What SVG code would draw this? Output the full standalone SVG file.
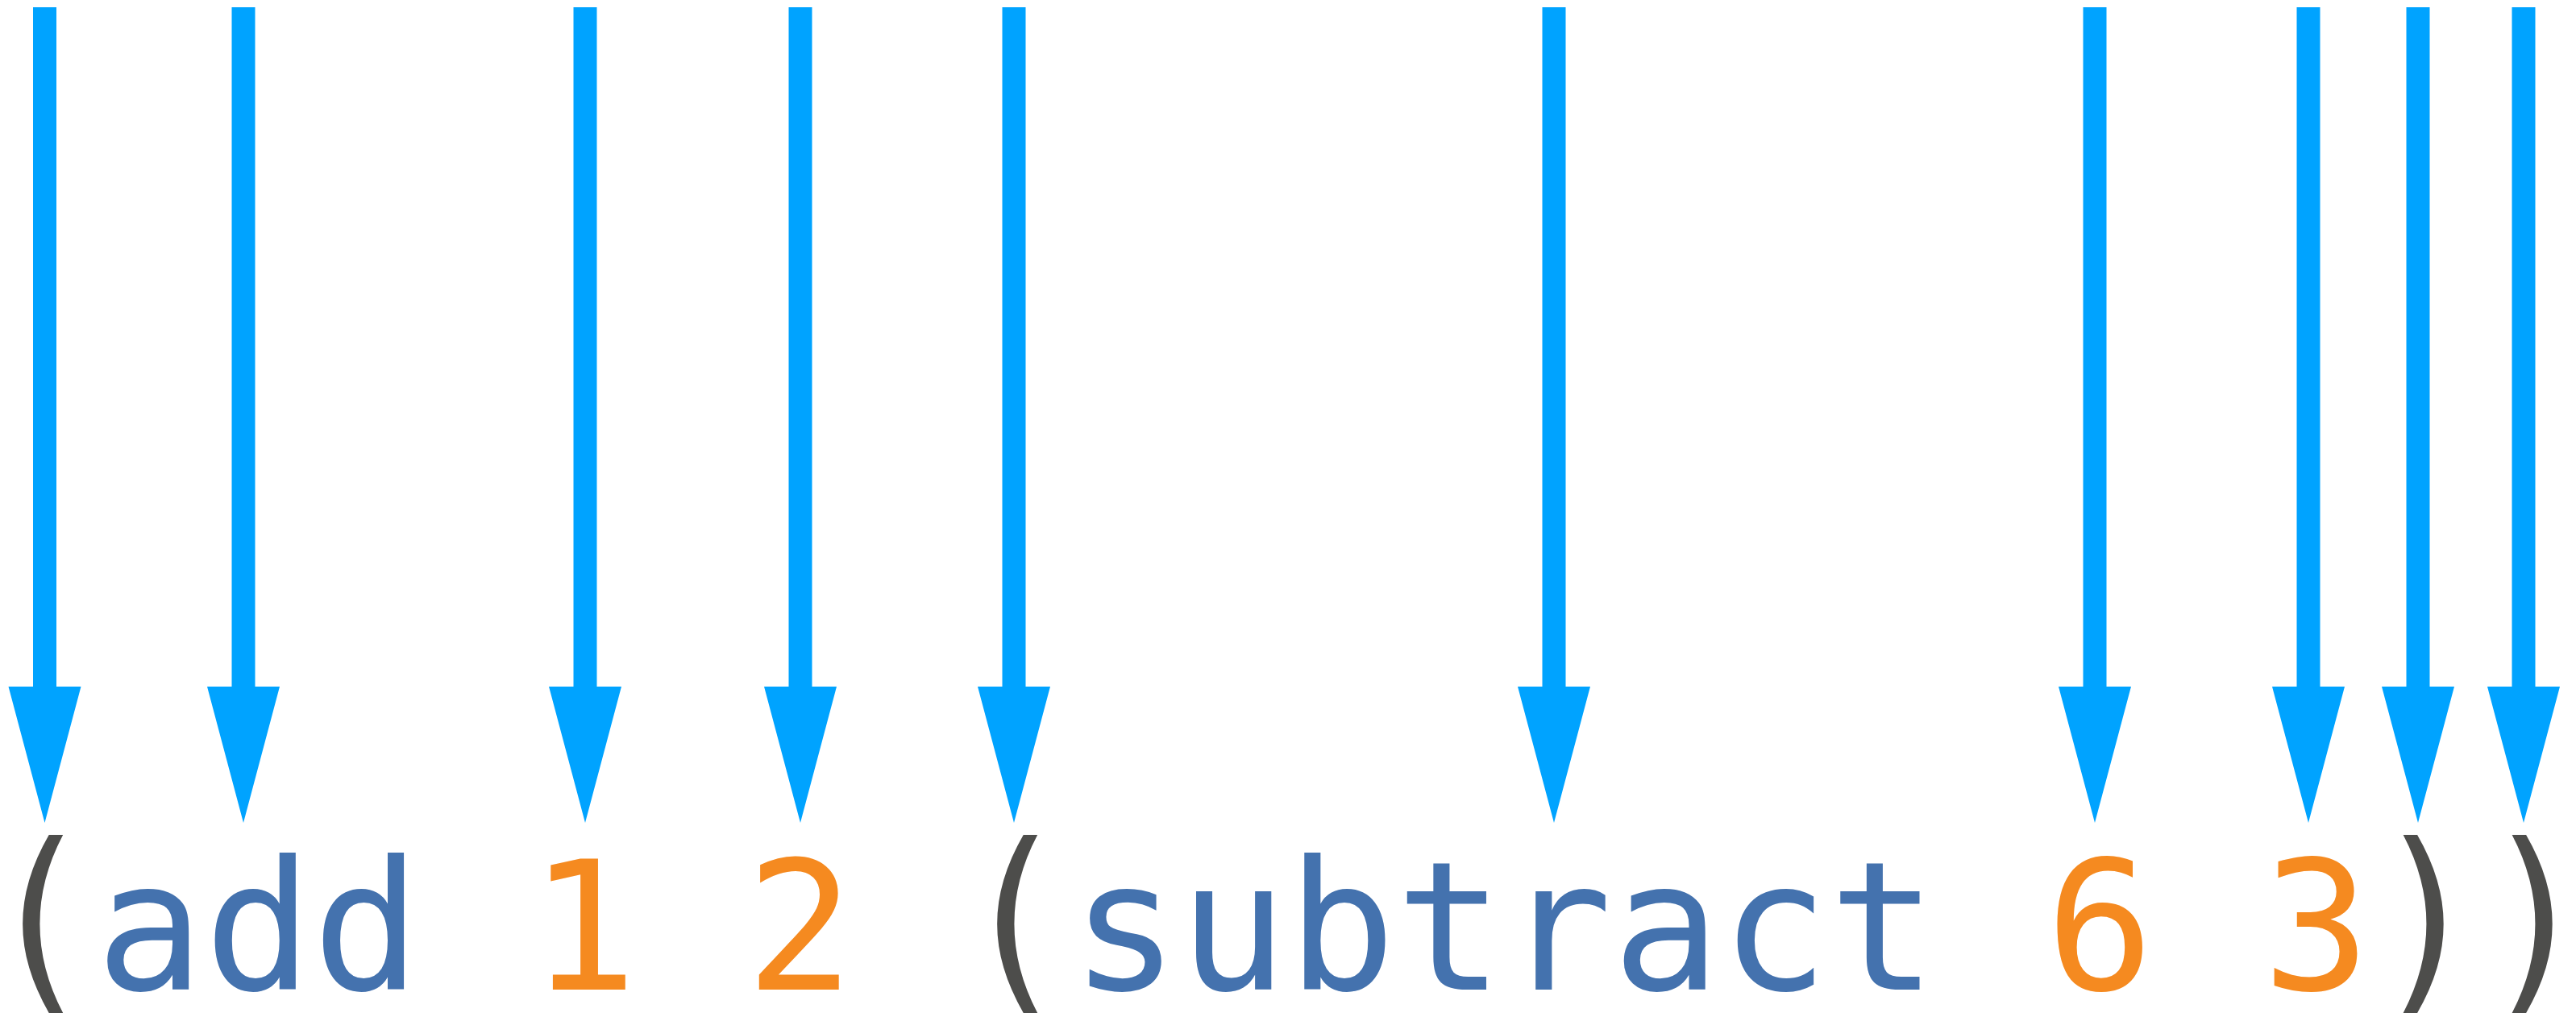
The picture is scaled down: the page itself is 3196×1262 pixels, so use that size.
<svg xmlns="http://www.w3.org/2000/svg" xmlns:xlink="http://www.w3.org/1999/xlink" width="3196" height="1262" viewBox="0 0 3196 1262">
  <style>
    .code { font-family: "DejaVu Sans Mono", "Liberation Mono", monospace; font-size: 223.2px; }
    .paren { fill: #4d4d4b; text-anchor: middle; }
    .sym { fill: #4472ae; }
    .num { fill: #f58a20; }
    .arrow { fill: #00a3ff; }
  </style>
  <defs>
    <!-- downward arrow centred on x = 0: shaft then triangular head -->
    <path id="down-arrow" d="M-14.5,9 H14.5 V852 H45 L0,1021 L-45,852 H-14.5 Z"/>
  </defs>
  <rect width="3196" height="1262" fill="#ffffff"/>

  <!-- arrows pointing at each token of the expression -->
  <g id="connectors" class="arrow">
    <use xlink:href="#down-arrow" href="#down-arrow" x="55.5"/>
    <use xlink:href="#down-arrow" href="#down-arrow" x="302"/>
    <use xlink:href="#down-arrow" href="#down-arrow" x="726"/>
    <use xlink:href="#down-arrow" href="#down-arrow" x="993"/>
    <use xlink:href="#down-arrow" href="#down-arrow" x="1258"/>
    <use xlink:href="#down-arrow" href="#down-arrow" x="1928"/>
    <use xlink:href="#down-arrow" href="#down-arrow" x="2599"/>
    <use xlink:href="#down-arrow" href="#down-arrow" x="2864"/>
    <use xlink:href="#down-arrow" href="#down-arrow" x="3000"/>
    <use xlink:href="#down-arrow" href="#down-arrow" x="3131"/>
  </g>

  <!-- tokens of (add 1 2 (subtract 6 3)); monospace cells of 134.4px.
       Parentheses are stretched vertically so they span the full line height. -->
  <g id="tok-open-outer" transform="translate(0,1259) scale(1,1.11) translate(0,-1259)">
    <text class="code paren" x="49" y="1228">(</text>
  </g>
  <g id="tok-add"><text class="code sym" x="118.8" y="1228">add</text></g>
  <g id="tok-1"><text class="code num" x="656.4" y="1228">1</text></g>
  <g id="tok-2"><text class="code num" x="925.2" y="1228">2</text></g>
  <g id="tok-open-inner" transform="translate(0,1259) scale(1,1.11) translate(0,-1259)">
    <text class="code paren" x="1258" y="1228">(</text>
  </g>
  <g id="tok-subtract"><text class="code sym" x="1328.4" y="1228">subtract</text></g>
  <g id="tok-6"><text class="code num" x="2538" y="1228">6</text></g>
  <g id="tok-3"><text class="code num" x="2806.8" y="1228">3</text></g>
  <g id="tok-close-inner" transform="translate(0,1259) scale(1,1.11) translate(0,-1259)">
    <text class="code paren" x="3011" y="1228">)</text>
  </g>
  <g id="tok-close-outer" transform="translate(0,1259) scale(1,1.11) translate(0,-1259)">
    <text class="code paren" x="3146" y="1228">)</text>
  </g>
</svg>
